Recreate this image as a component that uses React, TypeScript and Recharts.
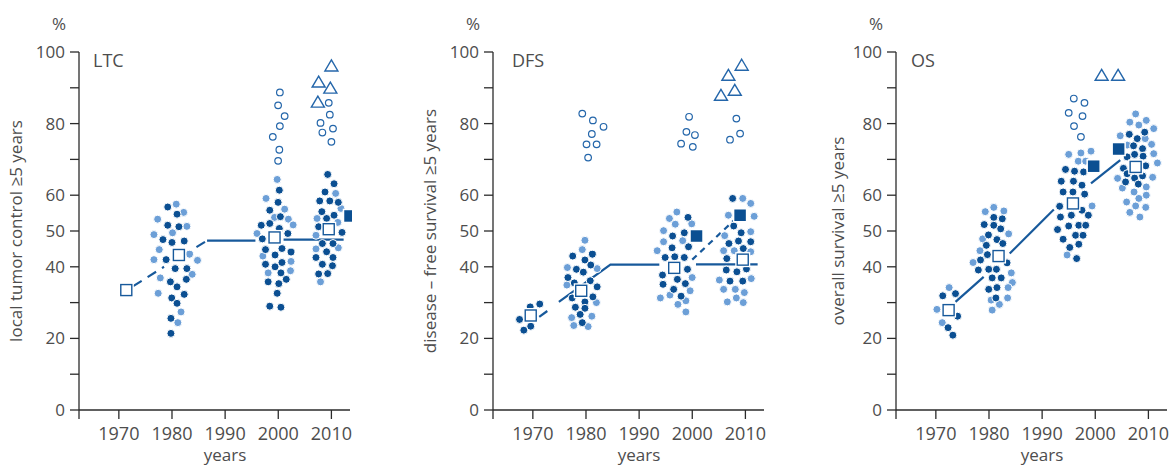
import { ComposedChart, Scatter, XAxis, YAxis } from "recharts";

type Pt = [number, number];

// x = year, y = % at >=5 years
const xTicks = [1970, 1980, 1990, 2000, 2010];
const yTicks = [0, 10, 20, 30, 40, 50, 60, 70, 80, 90, 100];
const yLabelled = [0, 20, 40, 50, 60, 80, 100];
const X_MIN = 1962.5;
const X_MAX = 2013.5;

// ---- LTC ----
const ltcDark: Pt[] = [
  [1979.2, 56.7], [1980.95, 54.7], [1979.2, 51.6], [1981.3, 51.2], [1978.3, 47.6], [1980.0, 46.8],
  [1982.3, 47.2], [1978.9, 42.0], [1980.6, 39.5], [1982.8, 39.5], [1979.7, 35.8], [1982.7, 36.5],
  [1980.95, 34.4], [1982.3, 32.3], [1979.95, 31.3], [1980.95, 29.8], [1979.8, 25.6], [1979.8, 21.4],
  [2000.2, 61.4], [1999.97, 58.0], [1998.4, 55.8], [2000.4, 54.0], [1998.4, 52.1], [1996.8, 51.6],
  [2000.2, 50.7], [1997.0, 47.8], [2001.8, 49.3], [1997.6, 44.8], [2000.7, 45.1], [2002.4, 44.1],
  [1999.4, 43.3], [1997.6, 40.7], [2000.7, 41.2], [1999.4, 40.0], [2000.5, 38.3], [1998.1, 35.8],
  [2001.5, 36.5], [2000.1, 35.3], [1999.8, 32.6], [1998.4, 29.0], [2000.5, 28.7],
  [2009.3, 65.8], [2010.5, 63.2], [2008.8, 60.9], [2007.8, 58.4], [2009.7, 58.4], [2011.3, 58.0],
  [2008.2, 55.4], [2010.5, 54.4], [2009.1, 53.5], [2007.6, 51.2], [2012.0, 49.6], [2008.3, 46.5],
  [2010.3, 46.5], [2009.1, 44.2], [2007.1, 42.6], [2010.3, 42.6], [2008.3, 40.7], [2010.2, 40.3],
  [2007.6, 38.0], [2009.3, 38.1],
];
const ltcLight: Pt[] = [
  [1977.3, 53.3], [1980.8, 57.5], [1982.2, 55.2], [1980.1, 49.5], [1982.8, 51.3], [1976.6, 49.0],
  [1977.6, 44.8], [1983.3, 43.5], [1984.8, 41.8], [1976.6, 42.0], [1983.8, 37.9], [1977.8, 36.9],
  [1977.4, 32.6], [1981.7, 27.4], [1981.1, 24.4],
  [1999.8, 64.4], [1997.7, 59.1], [2001.2, 56.1], [1999.3, 53.8], [2001.9, 53.3], [2002.8, 51.7],
  [1996.0, 49.3], [1997.1, 43.0], [2002.4, 41.5], [1998.1, 38.3], [2002.3, 38.9],
  [2010.8, 60.5], [2011.8, 56.3], [2007.3, 53.5], [2011.2, 52.4], [2007.1, 48.8], [2011.3, 45.3],
  [2007.1, 45.0], [2007.95, 35.8],
];
const ltcRings: Pt[] = [
  [2000.3, 88.7], [1999.97, 85.1], [2001.2, 82.1], [2000.3, 79.3], [1998.97, 76.3], [2000.2, 72.7],
  [1999.97, 69.6], [2009.5, 85.8], [2009.7, 82.5], [2007.95, 80.2], [2010.3, 78.6], [2008.3, 77.5],
  [2010.0, 74.9],
];
const ltcTris: Pt[] = [[2010.0, 96.1], [2007.6, 91.6], [2009.8, 89.9], [2007.45, 86.0]];
const ltcOpenSq: Pt[] = [[1971.4, 33.5], [1981.3, 43.3], [1999.3, 48.2], [2009.5, 50.5]];
const ltcFullSq: Pt[] = [[2013.5, 54.2]];
const ltcSolid: Pt[][] = [
  [[1986.6, 47.3], [1995.7, 47.3]],
  [[2001.0, 47.6], [2012.3, 47.6]],
];
const ltcDashed: Pt[][] = [
  [[1972.7, 34.6], [1978.5, 40.0]],
  [[1984.6, 45.5], [1986.6, 47.3]],
];

// ---- DFS ----
const dfsDark: Pt[] = [
  [1967.5, 25.3], [1968.3, 22.3], [1969.5, 28.8], [1969.6, 23.4], [1971.3, 29.6],
  [1977.5, 43.0], [1981.2, 43.5], [1979.8, 41.9], [1980.9, 40.5], [1978.2, 39.3], [1979.5, 38.5],
  [1976.6, 37.0], [1980.8, 36.1], [1977.8, 35.5], [1982.1, 34.4], [1977.4, 31.3], [1981.3, 31.6],
  [1979.8, 30.2], [1978.0, 28.7], [1979.8, 28.4], [1978.9, 26.7], [1979.3, 24.4],
  [1999.2, 53.8], [1998.5, 49.5], [1996.3, 48.6], [1999.3, 45.6], [1996.2, 45.3], [1994.9, 42.6],
  [1996.7, 42.8], [1998.5, 42.6], [1999.1, 39.3], [1994.4, 37.7], [1997.2, 36.5], [1994.5, 35.1],
  [1998.7, 35.3], [1996.5, 33.7], [1997.9, 31.8],
  [2007.6, 59.1], [2007.8, 51.4], [2009.2, 49.5], [2006.9, 46.5], [2008.7, 47.2], [2011.0, 47.0],
  [2009.6, 45.1], [2006.5, 42.3], [2006.4, 39.1], [2008.4, 38.6], [2010.2, 39.4], [2007.1, 36.0],
  [2009.5, 36.0],
];
const dfsLight: Pt[] = [
  [1979.8, 47.4], [1979.3, 44.8], [1976.5, 39.8], [1982.1, 39.5], [1976.4, 34.9], [1981.96, 30.0],
  [1977.3, 25.8], [1981.1, 26.2], [1977.7, 23.6], [1980.4, 23.3],
  [1997.1, 55.3], [1995.7, 53.5], [1996.8, 51.9], [1999.9, 52.0], [1994.6, 50.1], [1998.2, 47.3],
  [1994.6, 47.0], [1993.4, 44.5], [1999.98, 37.0], [1999.6, 33.3], [1995.8, 32.1], [1994.0, 31.3],
  [1998.8, 30.5], [1997.3, 29.5], [1998.8, 27.4],
  [2009.5, 59.1], [2011.0, 57.7], [2006.8, 54.4], [2011.65, 54.1], [2011.0, 49.8], [2006.1, 48.7],
  [2005.9, 44.5], [2007.9, 44.5], [2011.0, 44.2], [2005.1, 36.3], [2011.1, 36.7], [2005.9, 33.7],
  [2008.1, 33.7], [2009.8, 32.8], [2006.6, 30.2], [2008.3, 31.3], [2009.6, 30.0],
];
const dfsRings: Pt[] = [
  [1979.3, 82.8], [1981.3, 80.9], [1983.3, 79.1], [1981.1, 77.1], [1980.1, 74.2], [1982.0, 74.2],
  [1980.4, 70.5], [1999.4, 81.9], [1998.9, 77.7], [2000.5, 76.8], [1997.9, 74.4], [2000.1, 73.5],
  [2008.3, 81.4], [2009.0, 77.2], [2007.1, 75.5],
];
const dfsTris: Pt[] = [[2009.3, 96.3], [2006.8, 93.5], [2008.0, 89.3], [2005.4, 87.9]];
const dfsOpenSq: Pt[] = [[1969.6, 26.4], [1979.1, 33.3], [1996.6, 39.7], [2009.5, 42.0]];
const dfsFullSq: Pt[] = [[2000.8, 48.6], [2009.0, 54.4]];
const dfsSolid: Pt[][] = [
  [[1974.9, 30.2], [1984.6, 40.6], [1993.8, 40.6]],
  [[2000.7, 40.7], [2012.3, 40.7]],
];
const dfsDashed: Pt[][] = [[[1971.2, 26.0], [1973.4, 28.4]]];
const dfsFineDashed: Pt[][] = [[[2000.0, 42.0], [2008.0, 53.2]]];

// ---- OS ----
const osDark: Pt[] = [
  [1971.3, 31.9], [1973.7, 32.5], [1974.1, 26.2], [1972.3, 23.0], [1973.2, 20.9],
  [1980.9, 53.8], [1982.5, 53.4], [1979.1, 51.8], [1980.9, 51.6], [1982.2, 50.6], [1979.9, 48.9],
  [1981.5, 47.6], [1982.6, 46.5], [1979.5, 46.0], [1979.7, 43.4], [1978.4, 41.9], [1983.4, 41.1],
  [1978.0, 39.1], [1979.95, 39.3], [1981.4, 39.3], [1980.6, 36.9], [1982.3, 36.9], [1979.95, 33.7],
  [1981.5, 34.2], [1981.3, 31.3],
  [1994.4, 67.2], [1996.1, 66.7], [1997.8, 66.5], [1993.6, 63.9], [1995.9, 63.9], [1997.5, 62.8],
  [1993.95, 60.9], [1995.8, 60.9], [1998.0, 60.3], [1993.3, 56.9], [1997.5, 55.8], [1995.5, 54.4],
  [1993.45, 53.9], [1998.7, 54.4], [1996.9, 51.6], [1998.2, 51.6], [1995.0, 51.4], [1992.9, 50.4],
  [1996.3, 48.8], [1997.7, 48.8], [1993.95, 47.7], [1996.9, 46.3], [1995.2, 45.4], [1996.5, 42.3],
  [2009.3, 77.6], [2006.4, 77.0], [2007.9, 75.8], [2007.2, 73.8], [2008.9, 73.0], [2006.0, 70.7],
  [2007.4, 71.4], [2009.0, 70.9], [2005.3, 67.5], [2009.5, 68.2], [2006.0, 66.0], [2008.9, 65.4],
  [2005.7, 63.7], [2007.4, 64.8], [2008.1, 63.1],
];
const osLight: Pt[] = [
  [1972.5, 34.2], [1970.2, 28.1], [1971.2, 24.4],
  [1979.3, 55.4], [1980.9, 56.6], [1982.8, 55.6], [1983.7, 49.2], [1978.8, 47.8], [1978.3, 44.5],
  [1977.0, 41.2], [1984.2, 38.3], [1984.4, 35.6], [1983.6, 34.2], [1980.4, 30.7], [1983.5, 31.3],
  [1981.96, 29.5], [1980.6, 27.9],
  [1995.0, 71.4], [1997.3, 71.8], [1999.2, 72.3], [1996.8, 69.5], [1998.2, 69.5], [1999.4, 57.0],
  [1994.7, 43.3],
  [2007.6, 82.7], [2006.5, 80.4], [2008.2, 79.6], [2009.6, 80.9], [2011.0, 78.6], [2004.7, 76.6],
  [2009.4, 75.8], [2006.0, 74.0], [2010.6, 74.2], [2011.0, 71.6], [2011.7, 69.0], [2010.8, 65.0],
  [2004.2, 64.7], [2005.1, 62.0], [2007.3, 60.9], [2009.6, 62.3], [2009.6, 60.0], [2008.2, 59.1],
  [2005.9, 58.1], [2007.6, 57.0], [2009.5, 56.6], [2006.5, 55.2], [2008.4, 53.9],
];
const osRings: Pt[] = [
  [1995.96, 87.0], [1997.97, 85.8], [1995.0, 83.0], [1997.6, 82.1], [1996.0, 79.3], [1997.3, 76.3],
];
const osTris: Pt[] = [[2001.2, 93.5], [2004.3, 93.5]];
const osOpenSq: Pt[] = [[1972.4, 27.9], [1981.8, 43.0], [1995.8, 57.7], [2007.6, 67.9]];
const osFullSq: Pt[] = [[1999.7, 68.1], [2004.4, 72.9]];
const osSolid: Pt[][] = [
  [[1973.7, 30.2], [1979.0, 37.2]],
  [[1983.9, 43.7], [1992.2, 56.0]],
  [[1999.2, 63.3], [2004.7, 69.8]],
];

const DARK = "#0b4f92";
const LIGHT = "#6c9fd7";
const LINE = "#17599b";
const RING = "#2466aa";
const AXIS = "#2b2b2b";
const TEXT = "#4d4d4d";
const FONT = "'Open Sans', sans-serif";

const rows = (pts: Pt[]) => pts.map(([x, y]) => ({ x, y }));

const none = () => <g />;
const dot = (fill: string) => (p: any) => (
  <circle cx={p.cx} cy={p.cy} r={4} fill={fill} stroke="#fff" strokeWidth={1} />
);
const ring = (p: any) => (
  <circle cx={p.cx} cy={p.cy} r={3.3} fill="#fff" stroke={RING} strokeWidth={1.2} />
);
const tri = (p: any) => (
  <path
    d={`M${p.cx},${p.cy - 6}L${p.cx + 6.5},${p.cy + 5}L${p.cx - 6.5},${p.cy + 5}Z`}
    fill="#fff"
    stroke={RING}
    strokeWidth={1.4}
    strokeLinejoin="miter"
  />
);
const openSq = (p: any) => (
  <g>
    <rect x={p.cx - 7.5} y={p.cy - 7.5} width={15} height={15} fill="#fff" />
    <rect x={p.cx - 5.5} y={p.cy - 5.5} width={11} height={11} fill="#fff" stroke={LINE} strokeWidth={1.4} />
  </g>
);
const fullSq = (p: any) => (
  <rect x={p.cx - 6.5} y={p.cy - 6.5} width={13} height={13} fill={DARK} stroke="#fff" strokeWidth={1.5} />
);

interface PanelProps {
  left: number;
  dark: Pt[];
  light: Pt[];
  rings: Pt[];
  tris: Pt[];
  openSqs: Pt[];
  fullSqs: Pt[];
  solid: Pt[][];
  dashed?: Pt[][];
  fineDashed?: Pt[][];
}

function Panel({ left, dark, light, rings, tris, openSqs, fullSqs, solid, dashed = [], fineDashed = [] }: PanelProps) {
  const trend = (segs: Pt[][], key: string, dash?: string) =>
    segs.map((seg, i) => (
      <Scatter
        key={key + i}
        data={rows(seg)}
        fill={LINE}
        line={{ stroke: LINE, strokeWidth: 2.2, strokeDasharray: dash }}
        shape={none}
        isAnimationActive={false}
      />
    ));
  return (
    <div style={{ position: "absolute", left, top: 0 }}>
      <ComposedChart width={352} height={469} margin={{ top: 52, right: 2, bottom: 19, left: 39 }}>
        <XAxis
          type="number"
          dataKey="x"
          domain={[X_MIN, X_MAX]}
          ticks={[X_MIN, ...xTicks]}
          tickFormatter={(v: number) => (xTicks.includes(v) ? String(v) : "")}
          interval={0}
          height={40}
          tickSize={9}
          tickMargin={8}
          tick={{ fontSize: 18, fill: TEXT, fontFamily: FONT }}
          axisLine={{ stroke: AXIS, strokeWidth: 1.3 }}
          tickLine={{ stroke: AXIS, strokeWidth: 1.3 }}
        />
        <YAxis
          type="number"
          dataKey="y"
          domain={[0, 100]}
          ticks={yTicks}
          tickFormatter={(v: number) => (yLabelled.includes(v) ? String(v) : "")}
          interval={0}
          width={40}
          tickSize={9}
          tickMargin={5}
          tick={{ fontSize: 17, fill: TEXT, fontFamily: FONT }}
          axisLine={{ stroke: AXIS, strokeWidth: 1.3 }}
          tickLine={{ stroke: AXIS, strokeWidth: 1.3 }}
        />
        {trend(solid, "s")}
        {trend(dashed, "d", "10 7")}
        {trend(fineDashed, "f", "6 5")}
        <Scatter data={rows(rings)} shape={ring} isAnimationActive={false} />
        <Scatter data={rows(tris)} shape={tri} isAnimationActive={false} />
        <Scatter data={rows(light)} shape={dot(LIGHT)} isAnimationActive={false} />
        <Scatter data={rows(dark)} shape={dot(DARK)} isAnimationActive={false} />
        <Scatter data={rows(openSqs)} shape={openSq} isAnimationActive={false} />
        <Scatter data={rows(fullSqs)} shape={fullSq} isAnimationActive={false} />
      </ComposedChart>
    </div>
  );
}

const panelNames = ["LTC", "DFS", "OS"];
const yTitles = ["local tumor control ≥5 years", "disease – free survival ≥5 years", "overall survival ≥5 years"];
const axisX = [79, 493, 896];
const nameDx = [14, 19, 15];
const yTitleX = [22, 436, 844];

export default function App() {
  return (
    <div style={{ position: "absolute", left: 0, top: 0, width: 1169, height: 469, overflow: "hidden", background: "#fff" }}>
      <Panel left={axisX[0] - 79} dark={ltcDark} light={ltcLight} rings={ltcRings} tris={ltcTris}
        openSqs={ltcOpenSq} fullSqs={ltcFullSq} solid={ltcSolid} dashed={ltcDashed} />
      <Panel left={axisX[1] - 79} dark={dfsDark} light={dfsLight} rings={dfsRings} tris={dfsTris}
        openSqs={dfsOpenSq} fullSqs={dfsFullSq} solid={dfsSolid} dashed={dfsDashed} fineDashed={dfsFineDashed} />
      <Panel left={axisX[2] - 79} dark={osDark} light={osLight} rings={osRings} tris={osTris}
        openSqs={osOpenSq} fullSqs={osFullSq} solid={osSolid} />
      <svg width={1169} height={469} style={{ position: "absolute", left: 0, top: 0, pointerEvents: "none" }}
        fontFamily={FONT} fill={TEXT}>
        {axisX.map((ax, i) => (
          <g key={i}>
            <text x={ax - 20} y={30} fontSize={17} textAnchor="middle">%</text>
            <text x={ax + nameDx[i]} y={67} fontSize={18}>{panelNames[i]}</text>
            <text x={yTitleX[i]} y={231} fontSize={17} textAnchor="middle"
              transform={`rotate(-90 ${yTitleX[i]} 231)`}>{yTitles[i]}</text>
            <text x={ax + 146} y={461} fontSize={17} textAnchor="middle">years</text>
          </g>
        ))}
      </svg>
    </div>
  );
}
